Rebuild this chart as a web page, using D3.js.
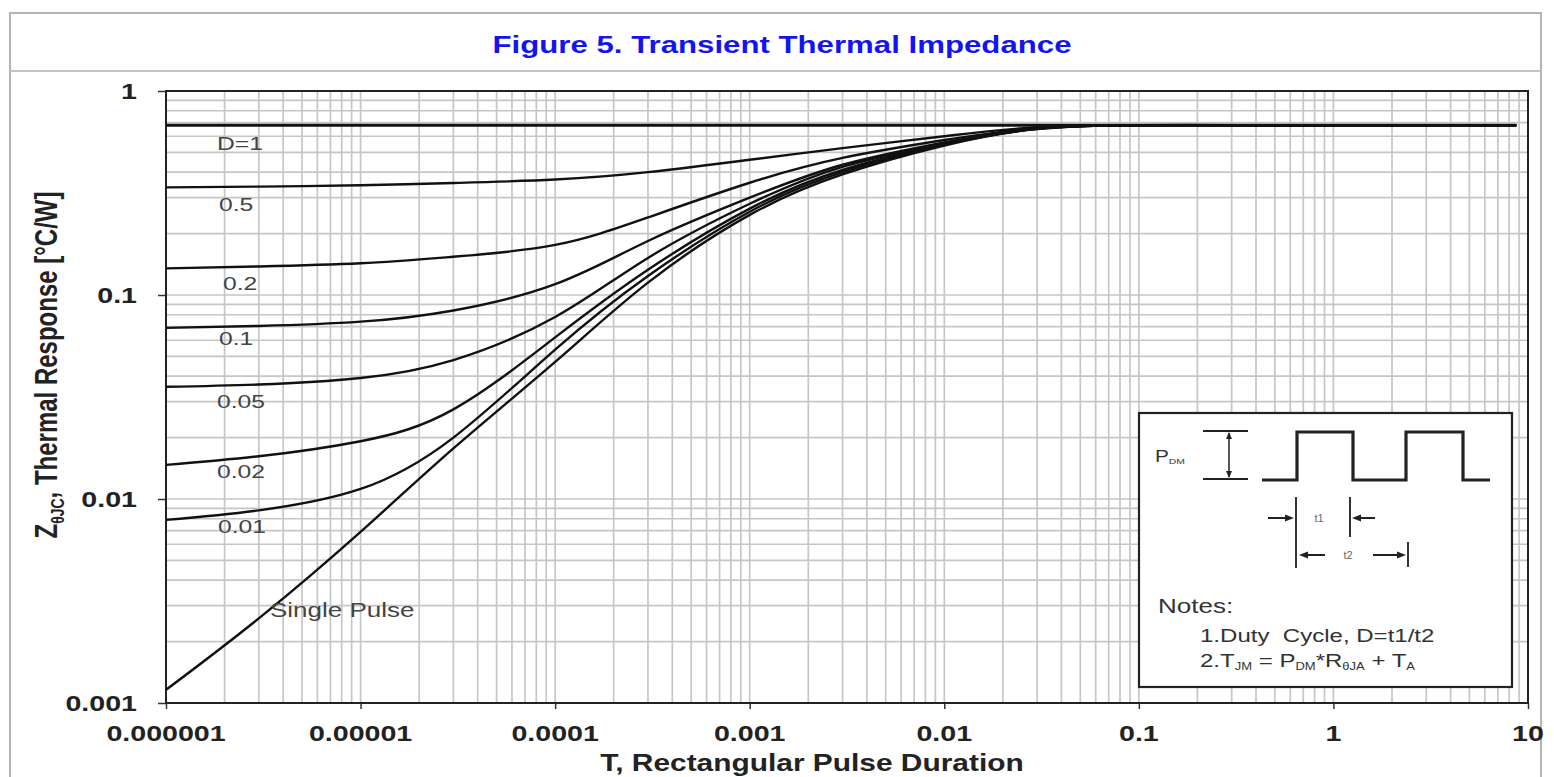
<!DOCTYPE html>
<html><head><meta charset="utf-8">
<script src="https://cdn.jsdelivr.net/npm/d3@7"></script>
<style>
body{margin:0;background:#fff}
svg{display:block}
text{font-family:"Liberation Sans",Arial,Helvetica,sans-serif}
</style>
</head><body>
<svg id="chart" width="1554" height="777"></svg>
<script>
// ---------------- data ----------------
const titleText = "Figure 5. Transient Thermal Impedance";
const xAxisTitle = "T, Rectangular Pulse Duration";
const xTickValues = [1e-6, 1e-5, 1e-4, 1e-3, 1e-2, 1e-1, 1, 10];
const xTickLabels = ["0.000001", "0.00001", "0.0001", "0.001", "0.01", "0.1", "1", "10"];
const yTickValues = [0.001, 0.01, 0.1, 1];
const yTickLabels = ["0.001", "0.01", "0.1", "1"];

// pulse duration sample points [s]
const pulseTimes = [1e-6, 3e-6, 1e-5, 3e-5, 1e-4, 3e-4, 1e-3, 3e-3, 1e-2, 3e-2, 0.1, 0.3, 1, 3, 8.7];
// thermal response Z [°C/W] per duty cycle
const zD1     = [0.68, 0.68, 0.68, 0.68, 0.68, 0.68, 0.68, 0.68, 0.68, 0.68, 0.68, 0.68, 0.68, 0.68, 0.68];
const zD05    = [0.337, 0.340, 0.345, 0.354, 0.368, 0.400, 0.460, 0.525, 0.600, 0.664, 0.68, 0.68, 0.68, 0.68, 0.68];
const zD02    = [0.135, 0.138, 0.143, 0.154, 0.176, 0.240, 0.355, 0.470, 0.575, 0.658, 0.68, 0.68, 0.68, 0.68, 0.68];
const zD01    = [0.069, 0.0705, 0.074, 0.084, 0.113, 0.184, 0.300, 0.435, 0.560, 0.656, 0.68, 0.68, 0.68, 0.68, 0.68];
const zD005   = [0.0355, 0.0364, 0.0392, 0.048, 0.078, 0.152, 0.280, 0.425, 0.553, 0.654, 0.68, 0.68, 0.68, 0.68, 0.68];
const zD002   = [0.0147, 0.0162, 0.0192, 0.0275, 0.062, 0.133, 0.265, 0.410, 0.548, 0.653, 0.68, 0.68, 0.68, 0.68, 0.68];
const zD001   = [0.0079, 0.0088, 0.0112, 0.0200, 0.054, 0.124, 0.256, 0.400, 0.545, 0.652, 0.68, 0.68, 0.68, 0.68, 0.68];
const zSingle = [0.00116, 0.0026, 0.0069, 0.0177, 0.047, 0.115, 0.247, 0.390, 0.540, 0.650, 0.68, 0.68, 0.68, 0.68, 0.68];

const seriesNames = ["D=1", "0.5", "0.2", "0.1", "0.05", "0.02", "0.01", "Single Pulse"];
const seriesValues = [zD1, zD05, zD02, zD01, zD005, zD002, zD001, zSingle];

// ---------------- layout ----------------
const SX = 1.3; // horizontal text stretch of the original
const labelLayout = [ // left x, baseline y, font size
  [217, 150, 19], [219, 211, 19], [223, 290, 19], [219, 345, 19],
  [217, 408, 19], [217, 478, 19], [218, 533, 19], [270, 617, 20]
];

const svg = d3.select("#chart");
const x = d3.scaleLog().domain([1e-6, 10]).range([166, 1528]);
const y = d3.scaleLog().domain([0.001, 1]).range([703, 91]);

function stext(parent, px, py, str, o) {
  o = o || {};
  const t = parent.append("text")
    .attr("transform", `translate(${px},${py}) scale(${o.sx || SX},1)` + (o.rot ? ` rotate(${o.rot})` : ""))
    .attr("text-anchor", o.anchor || "start")
    .attr("font-size", o.size || 20)
    .attr("font-weight", o.weight || "normal")
    .attr("fill", o.fill || "#222");
  if (str !== null) t.text(str);
  return t;
}

// outer frame
svg.append("rect").attr("x", 10).attr("y", 13).attr("width", 1531).attr("height", 800)
  .attr("fill", "none").attr("stroke", "#b4b4b4").attr("stroke-width", 2);
svg.append("line").attr("x1", 10).attr("x2", 1541).attr("y1", 71).attr("y2", 71)
  .attr("stroke", "#c4c4c4").attr("stroke-width", 2);

// title
stext(svg, 782, 53, titleText, {anchor: "middle", size: 24, weight: "bold", fill: "#1414f0"});

// grid
const grid = svg.append("g");
const xGrid = [], yGrid = [];
for (let n = -6; n <= 0; n++) for (let k = 1; k <= 9; k++) xGrid.push(k * Math.pow(10, n));
for (let n = -3; n <= -1; n++) for (let k = 1; k <= 9; k++) yGrid.push(k * Math.pow(10, n));
grid.selectAll("line.v").data(xGrid).join("line")
  .attr("x1", d => x(d)).attr("x2", d => x(d)).attr("y1", y(1)).attr("y2", y(0.001))
  .attr("stroke", "#c6c6c6").attr("stroke-width", 1.7);
grid.selectAll("line.h").data(yGrid).join("line")
  .attr("y1", d => y(d)).attr("y2", d => y(d)).attr("x1", x(1e-6)).attr("x2", x(10))
  .attr("stroke", "#c6c6c6").attr("stroke-width", 1.7);

// axes (ticks only; labels drawn stretched)
const yAxis = svg.append("g").attr("transform", `translate(${x(1e-6)},0)`)
  .call(d3.axisLeft(y).tickValues(yTickValues).tickSize(8).tickFormat(""));
const xAxis = svg.append("g").attr("transform", `translate(0,${y(0.001)})`)
  .call(d3.axisBottom(x).tickValues(xTickValues).tickSize(6).tickFormat(""));
[yAxis, xAxis].forEach(a => {
  a.select(".domain").remove();
  a.selectAll(".tick line").attr("stroke", "#333").attr("stroke-width", 1.5);
});
svg.append("rect").attr("x", x(1e-6)).attr("y", y(1))
  .attr("width", x(10) - x(1e-6)).attr("height", y(0.001) - y(1))
  .attr("fill", "none").attr("stroke", "#222").attr("stroke-width", 2);

yTickValues.forEach((v, i) => {
  stext(svg, 137, y(v) + 8, yTickLabels[i], {anchor: "end", size: 22, weight: "bold", fill: "#222"});
});
xTickValues.forEach((v, i) => {
  stext(svg, x(v), 741, xTickLabels[i], {anchor: "middle", size: 22, weight: "bold", fill: "#222"});
});

// axis titles
stext(svg, 812, 771, xAxisTitle, {anchor: "middle", size: 23, weight: "bold", fill: "#222"});
const yt = stext(svg, 57, 365, null, {anchor: "middle", size: 24, weight: "bold", fill: "#222", rot: -90});
yt.append("tspan").text("Z");
yt.append("tspan").attr("font-size", 14).attr("dy", 5).text("θJC");
yt.append("tspan").attr("dy", -5).text(", Thermal Response [°C/W]");

// curves
const line = d3.line().x(d => x(d[0])).y(d => y(d[1])).curve(d3.curveNatural);
const curves = svg.append("g");
seriesValues.forEach((vals, i) => {
  const pts = pulseTimes.map((t, j) => [t, vals[j]]);
  curves.append("path").attr("d", line(pts))
    .attr("fill", "none").attr("stroke", "#111")
    .attr("stroke-width", i === 0 ? 3 : 2.4)
    .attr("stroke-linejoin", "round");
});

// curve labels
seriesNames.forEach((name, i) => {
  const [lx, ly, fs] = labelLayout[i];
  stext(svg, lx, ly, name, {size: fs, fill: "#444"});
});

// ---------------- inset diagram ----------------
const ix = 1139, iy = 413;
const inset = svg.append("g").attr("transform", `translate(${ix},${iy})`);
inset.append("rect").attr("x", 0).attr("y", 0).attr("width", 373).attr("height", 274)
  .attr("fill", "#fff").attr("stroke", "#222").attr("stroke-width", 2.2);

const plain = d3.line();
function seg(pts, w, col) {
  inset.append("path").attr("d", plain(pts)).attr("fill", "none")
    .attr("stroke", col || "#222").attr("stroke-width", w || 2);
}
function head(px, py, dir) { // dir: 1 points right, -1 left, 2 up, -2 down
  let p;
  if (dir === 1) p = [[px, py], [px - 9, py - 3.5], [px - 9, py + 3.5]];
  else if (dir === -1) p = [[px, py], [px + 9, py - 3.5], [px + 9, py + 3.5]];
  else if (dir === 2) p = [[px, py], [px - 3, py + 7], [px + 3, py + 7]];
  else p = [[px, py], [px - 3, py - 7], [px + 3, py - 7]];
  inset.append("path").attr("d", plain(p) + "Z").attr("fill", "#222");
}

// PDM label
const pdm = stext(inset, 16, 49, null, {size: 16, fill: "#333"});
pdm.append("tspan").text("P");
pdm.append("tspan").attr("font-size", 8).attr("dy", 2).text("DM");

// I-beam
seg([[64, 18], [109, 18]], 2);
seg([[64, 66], [109, 66]], 2);
seg([[90, 20], [90, 64]], 1.5);
head(90, 19, 2);
head(90, 65, -2);

// waveform
seg([[123, 67], [158, 67], [158, 19], [214, 19], [214, 67], [267, 67], [267, 19], [324, 19], [324, 67], [351, 67]], 3.2, "#222");

// t1 / t2 markers
seg([[157, 84], [157, 155]], 2, "#333");
seg([[211, 84], [211, 124]], 2, "#333");
seg([[129, 105], [152, 105]], 2);
head(155, 105, 1);
seg([[236, 105], [216, 105]], 2);
head(213, 105, -1);
stext(inset, 180, 109, "t1", {anchor: "middle", size: 10, fill: "#666", sx: 1.1});
seg([[186, 142], [163, 142]], 2);
head(160, 142, -1);
seg([[234, 142], [264, 142]], 2);
head(267, 142, 1);
seg([[269, 129], [269, 154]], 2, "#333");
stext(inset, 209, 146, "t2", {anchor: "middle", size: 10, fill: "#666", sx: 1.1});

// notes
stext(inset, 19, 200, "Notes:", {size: 20, fill: "#333"});
stext(inset, 61, 229, "1.Duty  Cycle, D=t1/t2", {size: 18.5, fill: "#333"}).style("white-space", "pre");
const n2 = stext(inset, 61, 254, null, {size: 18.5, fill: "#333"});
n2.append("tspan").text("2.T");
n2.append("tspan").attr("font-size", 10).attr("dy", 3).text("JM");
n2.append("tspan").attr("dy", -3).text(" = P");
n2.append("tspan").attr("font-size", 10).attr("dy", 3).text("DM");
n2.append("tspan").attr("dy", -3).text("*R");
n2.append("tspan").attr("font-size", 10).attr("dy", 3).text("θJA");
n2.append("tspan").attr("dy", -3).text(" + T");
n2.append("tspan").attr("font-size", 10).attr("dy", 3).text("A");
</script>
</body></html>
